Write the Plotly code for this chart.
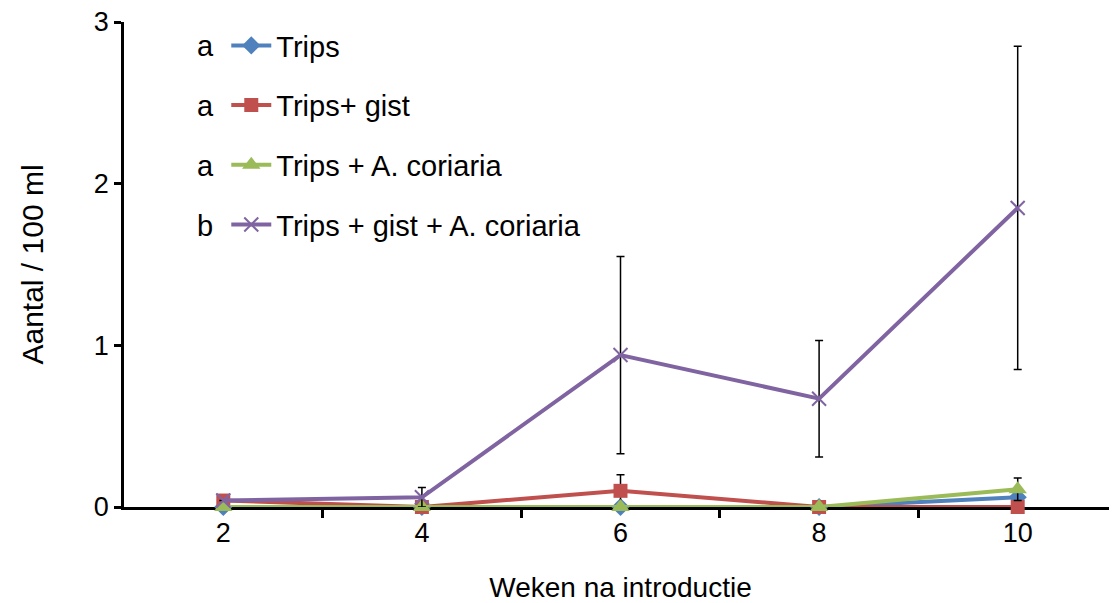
import plotly.graph_objects as go

weeks = [2, 4, 6, 8, 10]
names = ["Trips", "Trips+ gist", "Trips + A. coriaria", "Trips + gist + A. coriaria"]
letters = ["a", "a", "a", "b"]
trips = [0, 0, 0, 0, 0.06]
trips_gist = [0.04, 0, 0.10, 0, 0]
trips_ac = [0, 0, 0, 0, 0.11]
trips_gist_ac = [0.04, 0.06, 0.94, 0.67, 1.85]
err_trips = [None, None, None, None, None]
err_gist = [None, None, 0.10, None, None]
err_ac = [None, None, None, None, 0.07]
err_gist_ac = [None, 0.06, 0.61, 0.36, 1.0]

colors = ["#4F81BD", "#C0504D", "#9BBB59", "#8064A2"]
symbols = ["diamond", "square", "triangle-up", "x-thin"]
msizes = [14, 14, 16, 14]
series = [trips, trips_gist, trips_ac, trips_gist_ac]
errs = [err_trips, err_gist, err_ac, err_gist_ac]

FONT = "Liberation Sans, Arial, sans-serif"

fig = go.Figure()
for i in range(4):
    mk = dict(symbol=symbols[i], size=msizes[i], color=colors[i])
    if symbols[i] == "x-thin":
        mk["line"] = dict(color=colors[i], width=2)
    fig.add_trace(go.Scatter(
        x=weeks, y=series[i], name=names[i], mode="lines+markers",
        line=dict(color=colors[i], width=4), marker=mk,
        legendgroup=str(i), cliponaxis=False,
        error_y=dict(type="data", array=errs[i], color="black", thickness=1.5, width=4),
    ))

row_y = [0.9515, 0.8275, 0.7035, 0.5795]
for i, l in enumerate(letters):
    fig.add_annotation(xref="paper", yref="paper", x=0.072, y=row_y[i],
                       text=l, showarrow=False, xanchor="left", yanchor="middle",
                       font=dict(size=29, color="black"))

fig.update_layout(
    width=1109, height=595,
    margin=dict(l=116, r=0, t=14, b=96),
    plot_bgcolor="white", paper_bgcolor="white",
    font=dict(family=FONT, size=27, color="black"),
    showlegend=True,
    legend=dict(x=0.103, y=1.004, xanchor="left", yanchor="top", tracegroupgap=19,
                traceorder="grouped", font=dict(size=29), bgcolor="rgba(0,0,0,0)",
                itemwidth=40),
    xaxis=dict(range=[1, 11], tickvals=weeks, ticktext=[str(w) for w in weeks],
               ticks="", showline=True, linecolor="black", linewidth=2.5,
               showgrid=False, zeroline=False, tickfont=dict(size=27),
               layer="below traces",
               minor=dict(tickvals=[3, 5, 7, 9], ticks="outside", ticklen=8,
                          tickcolor="black", tickwidth=2.5),
               title=dict(text="Weken na introductie", standoff=33, font=dict(size=28))),
    yaxis=dict(range=[0, 3], tickvals=[0, 1, 2, 3], ticks="outside", ticklen=7,
               tickcolor="black", tickwidth=2.5, showline=True, linecolor="black",
               linewidth=2.5, showgrid=False, zeroline=False, tickfont=dict(size=27),
               layer="below traces", ticklabeloverflow="allow",
               title=dict(text="Aantal / 100 ml", standoff=42, font=dict(size=30))),
)

fig.write_html("out.html")
